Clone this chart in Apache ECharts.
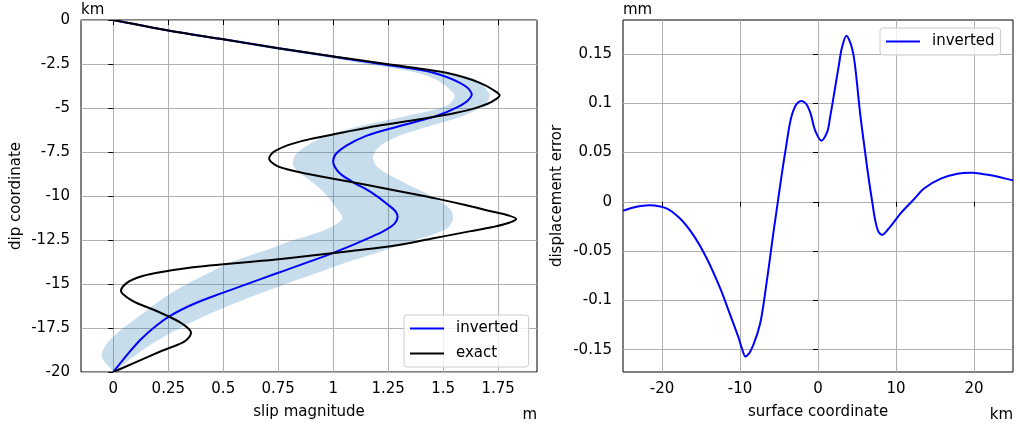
<!DOCTYPE html>
<html><head><meta charset="utf-8">
<script src="https://cdn.jsdelivr.net/npm/echarts@6/dist/echarts.min.js"></script>
<style>html,body{margin:0;padding:0;background:#fff}#c{width:1020px;height:425px}</style>
</head><body><div id="c"></div>
<script>
// ---- tick labels ----
const slipTicks = [0, 0.25, 0.5, 0.75, 1, 1.25, 1.5, 1.75];
const surfTicks = [-20, -10, 0, 10, 20];
const errTicks = [-0.15, -0.1, -0.05, 0, 0.05, 0.1, 0.15];

// ---- left panel: exact slip (m) vs dip coordinate (km) ----
const exactSlip = [0, 0.25, 0.5, 0.75, 1.0, 1.25, 1.515, 1.667, 1.725, 1.757, 1.725, 1.66, 1.55, 1.394, 1.197, 1.045, 0.894, 0.788, 0.727, 0.709, 0.742, 0.848, 1.0, 1.167, 1.318, 1.47, 1.606, 1.727, 1.79, 1.832, 1.80, 1.72, 1.62, 1.45, 1.29, 1.073, 0.739, 0.345, 0.133, 0.06, 0.035, 0.088, 0.194, 0.315, 0.353, 0.33, 0.224, 0.103, 0];
const exactDepth = [0, -0.6, -1.1, -1.6, -2.07, -2.52, -3.0, -3.57, -3.95, -4.28, -4.62, -4.95, -5.3, -5.64, -6.02, -6.39, -6.77, -7.14, -7.52, -7.89, -8.27, -8.65, -9.02, -9.40, -9.77, -10.15, -10.53, -10.9, -11.08, -11.3, -11.52, -11.78, -12.01, -12.42, -12.8, -13.14, -13.61, -14.08, -14.55, -14.95, -15.4, -15.96, -16.52, -17.27, -17.74, -18.21, -18.78, -19.44, -20];

// ---- left panel: inverted slip ----
const invSlip = [0, 0.25, 0.5, 0.75, 1.0, 1.242, 1.455, 1.576, 1.615, 1.63, 1.61, 1.565, 1.47, 1.303, 1.15, 1.06, 1.01, 1.0, 1.025, 1.09, 1.17, 1.245, 1.285, 1.293, 1.28, 1.235, 1.179, 1.0, 0.75, 0.5, 0.37, 0.26, 0.195, 0.12, 0.042, 0];
const invDepth = [0, -0.6, -1.1, -1.6, -2.08, -2.55, -3.0, -3.57, -3.9, -4.25, -4.6, -4.95, -5.45, -6.02, -6.58, -7.14, -7.65, -8.08, -8.65, -9.21, -9.77, -10.45, -10.9, -11.2, -11.55, -11.95, -12.29, -13.23, -14.36, -15.49, -16.11, -16.8, -17.37, -18.21, -19.34, -20];

// ---- left panel: uncertainty band ----
const bandDepth = [0, -0.5, -1, -1.5, -2, -2.5, -3, -3.4, -3.95, -4.32, -4.89, -5.45, -6.02, -6.58, -7.14, -7.71, -8.27, -8.84, -9.4, -9.96, -10.71, -11.26, -11.82, -12.2, -12.58, -13.14, -13.7, -14.27, -14.83, -15.39, -15.96, -16.52, -17.09, -17.65, -18.21, -18.78, -19.15, -19.53, -19.81, -20];
const bandLow = [0, 0.19, 0.42, 0.66, 0.91, 1.15, 1.38, 1.47, 1.53, 1.553, 1.515, 1.333, 1.122, 0.97, 0.879, 0.826, 0.818, 0.864, 0.924, 0.97, 1.015, 1.042, 0.982, 0.9, 0.8, 0.68, 0.55, 0.45, 0.36, 0.28, 0.21, 0.15, 0.09, 0.03, -0.018, -0.048, -0.052, -0.033, -0.011, 0];
const bandHigh = [0, 0.23, 0.48, 0.74, 1.0, 1.27, 1.5, 1.652, 1.697, 1.712, 1.682, 1.59, 1.44, 1.30, 1.215, 1.182, 1.195, 1.26, 1.348, 1.44, 1.53, 1.545, 1.52, 1.45, 1.35, 1.22, 1.08, 0.95, 0.82, 0.7, 0.58, 0.47, 0.37, 0.28, 0.2, 0.13, 0.09, 0.05, 0.02, 0];

// ---- right panel: displacement error (mm) vs surface coordinate (km) ----
const surfX = [-25, -23.5, -21.6, -19.43, -17.72, -16.0, -14.29, -12.57, -11.29, -10.2, -9.75, -9.3, -8.85, -8.28, -7.43, -6.57, -5.71, -5.15, -4.64, -4.21, -3.35, -2.7, -2.15, -1.55, -0.99, -0.35, 0.42, 1.16, 1.58, 2.65, 3.09, 3.64, 4.16, 4.58, 5.44, 6.31, 6.95, 7.37, 7.8, 8.24, 9.3, 10.59, 12.3, 13.59, 15.74, 17.89, 19.82, 22.18, 25];
const dispErr = [-0.009, -0.0055, -0.0035, -0.0067, -0.0168, -0.0336, -0.057, -0.0872, -0.114, -0.1375, -0.149, -0.157, -0.154, -0.145, -0.124, -0.081, -0.031, 0.0, 0.028, 0.050, 0.088, 0.0995, 0.1022, 0.0996, 0.0905, 0.072, 0.062, 0.0704, 0.0871, 0.1374, 0.157, 0.1683, 0.1609, 0.1475, 0.0871, 0.034, 0.0, -0.020, -0.031, -0.0336, -0.025, -0.0118, 0.0025, 0.0134, 0.0234, 0.0285, 0.0295, 0.0268, 0.0217];

const FONT = 'DejaVu Sans';
const txt = {color: '#000', fontSize: 15, fontFamily: FONT};

// centripetal Catmull-Rom path through points mapped by the axes (api.coord)
function splinePath(pts) {
  const dist = (a, b) => Math.hypot(a[0] - b[0], a[1] - b[1]);
  const f = (p) => p[0].toFixed(2) + ',' + p[1].toFixed(2);
  let d = 'M' + f(pts[0]);
  for (let i = 0; i < pts.length - 1; i++) {
    const p1 = pts[i], p2 = pts[i + 1];
    const p0 = i > 0 ? pts[i - 1] : [2 * p1[0] - p2[0], 2 * p1[1] - p2[1]];
    const p3 = i + 2 < pts.length ? pts[i + 2] : [2 * p2[0] - p1[0], 2 * p2[1] - p1[1]];
    const d1 = Math.sqrt(dist(p0, p1)), d2 = Math.sqrt(dist(p1, p2)), d3 = Math.sqrt(dist(p2, p3));
    let c1 = p1, c2 = p2;
    if (d1 > 1e-6 && d2 > 1e-6) {
      const a = 2 * d1 * d1 + 3 * d1 * d2 + d2 * d2, n = 3 * d1 * (d1 + d2);
      c1 = [(d1 * d1 * p2[0] - d2 * d2 * p0[0] + a * p1[0]) / n, (d1 * d1 * p2[1] - d2 * d2 * p0[1] + a * p1[1]) / n];
    }
    if (d3 > 1e-6 && d2 > 1e-6) {
      const b = 2 * d3 * d3 + 3 * d3 * d2 + d2 * d2, m = 3 * d3 * (d3 + d2);
      c2 = [(d3 * d3 * p1[0] - d2 * d2 * p3[0] + b * p2[0]) / m, (d3 * d3 * p1[1] - d2 * d2 * p3[1] + b * p2[1]) / m];
    }
    d += 'C' + f(c1) + ' ' + f(c2) + ' ' + f(p2);
  }
  return d;
}
function curveSeries(name, xs, ys, color, xi) {
  return {
    type: 'custom', name: name, xAxisIndex: xi, yAxisIndex: xi, z: 3, clip: true, silent: true,
    itemStyle: {color: color},
    data: [[xs[0], ys[0]]],
    renderItem: function (params, api) {
      const pts = xs.map((v, i) => api.coord([v, ys[i]]));
      return {type: 'path', shape: {pathData: splinePath(pts)},
              style: {fill: null, stroke: color, lineWidth: 2, lineJoin: 'round'}};
    }
  };
}

function axisCommon(extra) {
  return Object.assign({
    type: 'value',
    axisLine: {show: false},
    axisTick: {show: true, length: 5, lineStyle: {color: '#000', width: 1}},
    axisLabel: Object.assign({margin: 11}, txt),
    splitLine: {show: true, lineStyle: {color: '#b0b0b0', width: 1}},
    nameTextStyle: txt
  }, extra);
}
const legendCommon = {
  orient: 'vertical', icon: 'rect', itemWidth: 34, itemHeight: 2, itemGap: 10,
  backgroundColor: 'rgba(255,255,255,0.8)', borderColor: '#cccccc', borderWidth: 1, borderRadius: 3,
  textStyle: Object.assign({padding: [0, 0, 0, 7]}, txt)
};

const chart = echarts.init(document.getElementById('c'), null, {renderer: 'canvas'});
chart.setOption({
  animation: false,
  backgroundColor: '#fff',
  grid: [
    {left: 81, top: 20, width: 456, height: 355, show: true, borderColor: '#000', borderWidth: 1, backgroundColor: 'transparent'},
    {left: 623, top: 20, width: 390, height: 355, show: true, borderColor: '#000', borderWidth: 1, backgroundColor: 'transparent'}
  ],
  xAxis: [
    axisCommon({gridIndex: 0, min: -0.147, max: 1.927,
      axisTick: {show: true, length: 5, lineStyle: {color: '#000'}, customValues: slipTicks},
      axisLabel: Object.assign({margin: 10, customValues: slipTicks}, txt),
      name: 'slip magnitude', nameLocation: 'middle', nameGap: 33}),
    axisCommon({gridIndex: 1, min: -25, max: 25,
      axisTick: {show: true, length: 5, lineStyle: {color: '#000'}, customValues: surfTicks},
      axisLabel: Object.assign({margin: 10, customValues: surfTicks}, txt),
      name: 'surface coordinate', nameLocation: 'middle', nameGap: 33})
  ],
  yAxis: [
    axisCommon({gridIndex: 0, min: -20, max: 0, interval: 2.5,
      name: 'dip coordinate', nameLocation: 'middle', nameGap: 57}),
    axisCommon({gridIndex: 1, min: -0.1727, max: 0.1844,
      axisTick: {show: true, length: 5, lineStyle: {color: '#000'}, customValues: errTicks},
      axisLabel: Object.assign({margin: 11, customValues: errTicks}, txt),
      name: 'displacement error', nameLocation: 'middle', nameGap: 58})
  ],
  legend: [
    Object.assign({data: ['inverted', 'exact'], left: 404, top: 315, padding: [6, 10, 6, 6]}, legendCommon),
    Object.assign({data: ['inverted'], left: 880, top: 28, padding: [6, 6, 6, 6]}, legendCommon)
  ],
  graphic: [
    {type: 'text', left: 81, top: 3, style: {text: 'km', font: '15px "DejaVu Sans"', fill: '#000'}},
    {type: 'text', right: 1020 - 537, top: 408, style: {text: 'm', font: '15px "DejaVu Sans"', fill: '#000'}},
    {type: 'text', left: 623, top: 3, style: {text: 'mm', font: '15px "DejaVu Sans"', fill: '#000'}},
    {type: 'text', right: 7, top: 408, style: {text: 'km', font: '15px "DejaVu Sans"', fill: '#000'}}
  ],
  series: [
    {type: 'custom', name: 'band', xAxisIndex: 0, yAxisIndex: 0, silent: true, z: 1, clip: true,
     data: [[0, 0]],
     renderItem: function (params, api) {
       const pts = [];
       for (let i = 0; i < bandDepth.length; i++) pts.push(api.coord([bandLow[i], bandDepth[i]]));
       for (let i = bandDepth.length - 1; i >= 0; i--) pts.push(api.coord([bandHigh[i], bandDepth[i]]));
       return {type: 'polygon', shape: {points: pts, smooth: 0.3}, style: {fill: 'rgba(31,119,180,0.25)'}};
     }},
    curveSeries('inverted', invSlip, invDepth, '#0000ff', 0),
    curveSeries('exact', exactSlip, exactDepth, '#000000', 0),
    curveSeries('inverted', surfX, dispErr, '#0000ff', 1)
  ]
});
</script></body></html>
